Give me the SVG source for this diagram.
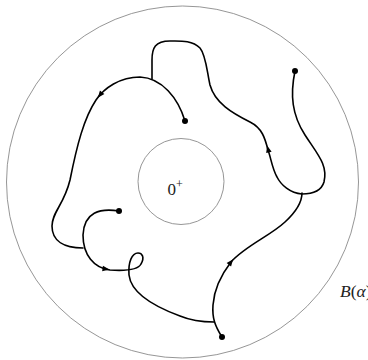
<svg xmlns="http://www.w3.org/2000/svg" width="368" height="360" viewBox="0 0 368 360">
<style>
.ring{fill:none;stroke:#8a8a8a;stroke-width:0.9}
.path{fill:none;stroke:#000;stroke-width:1.6;stroke-linecap:round;stroke-linejoin:round}
.dot{fill:#000}
.lbl{font-family:"Liberation Serif","DejaVu Serif",serif;fill:#222}
</style>
<defs>
<path id="ah" d="M3.5,0 L-3.5,-2.8 L-3.5,2.8 Z" fill="#000"/>
</defs>
<rect width="368" height="360" fill="#fff"/>
<g id="outer"><circle class="ring" cx="182.5" cy="182" r="176"/></g>
<g id="inner"><circle class="ring" cx="181" cy="181.5" r="43"/></g>
<g id="labels">
<text class="lbl" x="167.5" y="194.5" font-size="17">0<tspan font-size="12" dy="-7">+</tspan></text>
<text class="lbl" x="340" y="297" font-size="17.5"><tspan font-style="italic">B</tspan>(<tspan font-style="italic">α</tspan>)</text>
</g>
<g id="connectors">
<path class="path" d="M185,121 C178,98 162,78 140,77 C120,77 104,88 96,100 C84,118 77,145 70,180 C64,205 52,212 52,226 C52,241 64,248 83,248"/>
<path class="path" d="M119,211 C100,208 84,212 83,235 C83,255 94,268 110,270 C125,271 138,270 141,264 C145,257 142,253 138,253 C132,253 128,262 129,275 C131,292 150,305 180,316 C192,321 202,322 214,322"/>
<path class="path" d="M222,337 C215,326 212,318 213,305 C214,290 221,275 231,262 C245,246 270,236 285,222 C298,210 302,200 302,193"/>
<path class="path" d="M295,71 C290,95 292,115 305,135 C318,155 328,165 324,182 C321,192 310,194 302,194 C290,193 281,185 277,177 C272,168 271,158 268,150 C265,138 262,128 250,122 C232,113 215,103 210,85 C207,72 206,55 200,48 C192,40 180,41 170,41 C155,41 152,48 152,60 L152,79"/>
<use href="#ah" transform="translate(100,95) rotate(128)"/>
<use href="#ah" transform="translate(106,269) rotate(8)"/>
<use href="#ah" transform="translate(231,262) rotate(-52)"/>
<use href="#ah" transform="translate(268,149) rotate(-105)"/>
</g>
<g id="dots">
<circle class="dot" cx="185" cy="121" r="3"/>
<circle class="dot" cx="295" cy="71" r="3"/>
<circle class="dot" cx="119" cy="211" r="3"/>
<circle class="dot" cx="222" cy="337" r="3"/>
</g>
</svg>
